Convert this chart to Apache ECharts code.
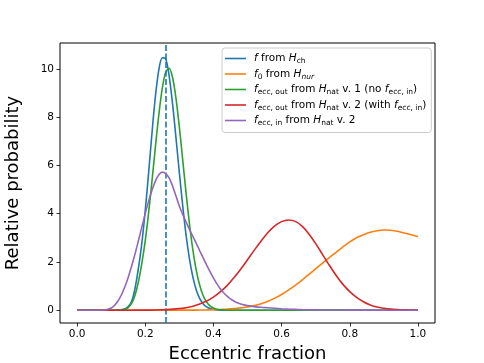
<!DOCTYPE html>
<html><head><meta charset="utf-8">
<script src="https://cdn.jsdelivr.net/npm/echarts@6/dist/echarts.min.js"></script>
<style>html,body{margin:0;padding:0;background:#fff}#c{width:484px;height:363px}</style>
</head><body><div id="c"></div>
<script>
// ---- data ----
const seriesNames = ['f from H_ch', 'f0 from H_nur', 'f_ecc,out from H_nat v. 1 (no f_ecc,in)', 'f_ecc,out from H_nat v. 2 (with f_ecc,in)', 'f_ecc,in from H_nat v. 2'];
const legendLabels = [
  '{i|f}{n| from }{i|H}{s|ch}',
  '{i|f}{s|0}{n| from }{i|H}{si|nur}',
  '{i|f}{s|ecc, out}{n| from }{i|H}{s|nat}{n| v. 1 (no }{i|f}{s|ecc, in}{n|)}',
  '{i|f}{s|ecc, out}{n| from }{i|H}{s|nat}{n| v. 2 (with }{i|f}{s|ecc, in}{n|)}',
  '{i|f}{s|ecc, in}{n| from }{i|H}{s|nat}{n| v. 2}'
];
const colors = ['#1f77b4', '#ff7f0e', '#2ca02c', '#d62728', '#9467bd'];

const blueX = [0, 0.11, 0.12, 0.13, 0.14, 0.15, 0.16, 0.17, 0.18, 0.19, 0.20, 0.21, 0.22, 0.23, 0.24, 0.25, 0.26, 0.27, 0.28, 0.29, 0.30, 0.31, 0.32, 0.33, 0.34, 0.35, 0.36, 0.37, 0.38, 0.39, 0.40, 0.41, 0.42, 1.0];
const blueY = [0, 0, 0.01, 0.02, 0.05, 0.15, 0.36, 0.90, 1.74, 2.77, 4.12, 5.70, 7.37, 8.88, 9.97, 10.46, 10.42, 9.72, 8.58, 7.17, 5.71, 4.32, 3.09, 2.11, 1.36, 0.83, 0.48, 0.26, 0.14, 0.07, 0.03, 0.01, 0, 0];

const orangeX = [0, 0.30, 0.32, 0.34, 0.36, 0.38, 0.40, 0.42, 0.44, 0.46, 0.48, 0.50, 0.52, 0.54, 0.56, 0.58, 0.60, 0.62, 0.64, 0.66, 0.68, 0.70, 0.72, 0.74, 0.76, 0.78, 0.80, 0.82, 0.84, 0.86, 0.88, 0.90, 0.92, 0.94, 0.96, 0.98, 1.00];
const orangeY = [0, 0.001, 0.002, 0.004, 0.007, 0.012, 0.02, 0.03, 0.045, 0.065, 0.095, 0.13, 0.19, 0.27, 0.37, 0.50, 0.65, 0.83, 1.03, 1.25, 1.48, 1.72, 1.95, 2.18, 2.40, 2.62, 2.83, 3.00, 3.13, 3.23, 3.29, 3.32, 3.31, 3.27, 3.20, 3.13, 3.04];

const greenX = [0, 0.11, 0.12, 0.13, 0.14, 0.15, 0.16, 0.17, 0.18, 0.19, 0.20, 0.21, 0.22, 0.23, 0.24, 0.25, 0.26, 0.27, 0.28, 0.29, 0.30, 0.31, 0.32, 0.33, 0.34, 0.35, 0.36, 0.37, 0.38, 0.39, 0.40, 0.41, 0.42, 0.43, 0.44, 1.0];
const greenY = [0, 0, 0, 0.01, 0.04, 0.11, 0.28, 0.62, 1.18, 1.94, 2.87, 4.04, 5.38, 6.79, 8.11, 9.19, 9.86, 10.02, 9.65, 8.80, 7.60, 6.22, 4.83, 3.55, 2.47, 1.63, 1.02, 0.60, 0.34, 0.18, 0.09, 0.04, 0.02, 0.01, 0, 0];

const redX = [0, 0.20, 0.25, 0.30, 0.32, 0.34, 0.36, 0.38, 0.40, 0.42, 0.44, 0.46, 0.48, 0.50, 0.52, 0.54, 0.56, 0.58, 0.60, 0.62, 0.64, 0.66, 0.68, 0.70, 0.72, 0.74, 0.76, 0.78, 0.80, 0.82, 0.84, 0.86, 0.88, 0.90, 0.92, 0.94, 0.96, 0.98, 1.00];
const redY = [0, 0.004, 0.017, 0.064, 0.105, 0.167, 0.254, 0.378, 0.543, 0.757, 1.02, 1.34, 1.70, 2.09, 2.49, 2.87, 3.22, 3.49, 3.67, 3.74, 3.68, 3.48, 3.16, 2.76, 2.31, 1.86, 1.44, 1.07, 0.77, 0.53, 0.35, 0.22, 0.13, 0.08, 0.044, 0.024, 0.012, 0.006, 0.003];

const purpleX = [0, 0.07, 0.08, 0.09, 0.10, 0.11, 0.12, 0.13, 0.14, 0.15, 0.16, 0.17, 0.18, 0.19, 0.20, 0.21, 0.22, 0.23, 0.24, 0.25, 0.26, 0.27, 0.28, 0.29, 0.30, 0.31, 0.32, 0.33, 0.34, 0.35, 0.36, 0.37, 0.38, 0.39, 0.40, 0.41, 0.42, 0.43, 0.44, 0.45, 0.46, 0.47, 0.48, 0.49, 0.50, 0.52, 0.54, 0.56, 0.58, 0.60, 0.62, 0.64, 0.66, 0.70, 0.75, 0.80, 0.90, 1.0];
const purpleY = [0, 0, 0.01, 0.04, 0.09, 0.20, 0.38, 0.63, 0.96, 1.36, 1.82, 2.33, 2.88, 3.44, 4.00, 4.52, 4.98, 5.36, 5.61, 5.72, 5.66, 5.48, 5.15, 4.74, 4.32, 3.97, 3.65, 3.34, 3.05, 2.76, 2.46, 2.17, 1.88, 1.60, 1.34, 1.10, 0.89, 0.72, 0.58, 0.47, 0.38, 0.31, 0.26, 0.22, 0.19, 0.15, 0.12, 0.10, 0.08, 0.06, 0.045, 0.035, 0.025, 0.015, 0.008, 0.004, 0.001, 0];

const vlineX = [0.255];
const xTicks = [0, 0.2, 0.4, 0.6, 0.8, 1.0];
const yTicks = [0, 2, 4, 6, 8, 10];

// ---- chart ----
const pairs = (xs, ys) => xs.map((x, i) => [x, ys[i]]);
const allX = [blueX, orangeX, greenX, redX, purpleX];
const allY = [blueY, orangeY, greenY, redY, purpleY];
const FONT = 'DejaVu Sans';

const series = seriesNames.map((name, k) => ({
  name, type: 'line', data: pairs(allX[k], allY[k]),
  smooth: 0.3, symbol: 'none', showSymbol: false,
  lineStyle: {color: colors[k], width: 1.6}, itemStyle: {color: colors[k]},
  emphasis: {disabled: true}, silent: true, z: 2 + k
}));
series.push({
  name: 'vline', type: 'line', data: [], z: 10, silent: true,
  markLine: {
    symbol: ['none', 'none'], silent: true, label: {show: false},
    lineStyle: {color: colors[0], type: [6, 2.5], width: 1.6},
    emphasis: {disabled: true},
    data: vlineX.map(v => ({xAxis: v}))
  }
});

const axisTextStyle = {fontFamily: FONT, fontSize: 10.5, color: '#000'};
const sub = {fontFamily: FONT, fontSize: 7.5, color: '#000', lineHeight: 9, verticalAlign: 'bottom'};

const option = {
  animation: false,
  textStyle: {fontFamily: FONT},
  grid: {left: 60, right: 49, top: 43, bottom: 40, show: true, borderColor: '#000', borderWidth: 1,
         backgroundColor: 'transparent', containLabel: false, outerBoundsMode: 'none'},
  xAxis: {
    type: 'value', min: -0.05, max: 1.05,
    name: 'Eccentric fraction', nameLocation: 'middle', nameGap: 21,
    nameTextStyle: {fontFamily: FONT, fontSize: 18, color: '#000'},
    axisLine: {show: false, onZero: false},
    axisTick: {show: true, length: 3.5, lineStyle: {color: '#000', width: 0.8}, customValues: xTicks},
    axisLabel: Object.assign({margin: 6, customValues: xTicks, formatter: v => v.toFixed(1)}, axisTextStyle),
    splitLine: {show: false}
  },
  yAxis: {
    type: 'value', min: -0.53, max: 11.07,
    name: 'Relative probability', nameLocation: 'middle', nameGap: 38,
    nameTextStyle: {fontFamily: FONT, fontSize: 18, color: '#000'},
    axisLine: {show: false, onZero: false},
    axisTick: {show: true, length: 3.5, lineStyle: {color: '#000', width: 0.8}, customValues: yTicks},
    axisLabel: Object.assign({margin: 6, customValues: yTicks, formatter: v => String(v)}, axisTextStyle),
    splitLine: {show: false}
  },
  legend: {
    orient: 'vertical', left: 222, top: 48,
    icon: 'rect', itemWidth: 21, itemHeight: 1.6, itemGap: 3,
    padding: [5, 5, 5, 3],
    backgroundColor: 'rgba(255,255,255,0.8)', borderColor: '#cccccc', borderWidth: 1, borderRadius: 3,
    selectedMode: false,
    data: seriesNames,
    formatter: name => legendLabels[seriesNames.indexOf(name)],
    textStyle: {
      padding: [0, 0, 0, 3],
      rich: {
        n: {fontFamily: FONT, fontSize: 10.5, color: '#000', lineHeight: 14},
        i: {fontFamily: FONT, fontSize: 10.5, color: '#000', lineHeight: 14, fontStyle: 'italic'},
        s: sub,
        si: Object.assign({}, sub, {fontStyle: 'italic'})
      }
    }
  },
  series
};

const chart = echarts.init(document.getElementById('c'), null, {renderer: 'canvas'});
chart.setOption(option);
</script>
</body></html>
